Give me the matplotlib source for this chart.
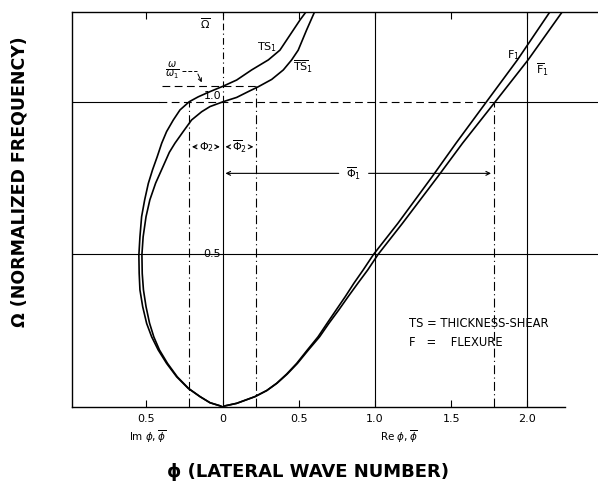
import matplotlib
matplotlib.use("Agg")
import matplotlib.pyplot as plt

plt.rcParams['mathtext.fontset'] = 'dejavusans'
plt.rcParams['font.family'] = ['DejaVu Sans']

# ---- data ----
# TS1 / F1 branch (negative phi = imaginary wave number side)
ts_f_phi = [0.548, 0.508, 0.464, 0.420, 0.376, 0.300, 0.190, 0.092, 0.004, -0.083,
            -0.160, -0.219, -0.280, -0.324, -0.368, -0.400, -0.430, -0.460, -0.488, -0.512,
            -0.532, -0.543, -0.550, -0.548, -0.543, -0.525, -0.499, -0.466, -0.423, -0.368,
            -0.302, -0.226, -0.149, -0.083, -0.018, 0.0,
            0.018, 0.092, 0.212, 0.289, 0.355, 0.420, 0.486, 0.556, 0.626, 0.685,
            0.745, 0.805, 0.862, 0.922, 0.990, 1.150, 1.375, 1.532, 1.725, 1.935, 2.149]
ts_f_omega = [1.296, 1.269, 1.236, 1.203, 1.170, 1.138, 1.105, 1.072, 1.052, 1.034,
              1.017, 1.001, 0.974, 0.941, 0.903, 0.865, 0.820, 0.778, 0.733, 0.679,
              0.624, 0.558, 0.498, 0.438, 0.384, 0.329, 0.274, 0.230, 0.187, 0.143,
              0.099, 0.061, 0.034, 0.014, 0.004, 0.0,
              0.004, 0.012, 0.034, 0.054, 0.078, 0.108, 0.143, 0.187, 0.230, 0.274,
              0.318, 0.362, 0.406, 0.449, 0.500, 0.602, 0.755, 0.865, 0.996, 1.138, 1.296]
# TS1-bar / F1-bar branch
tsb_fb_phi = [0.604, 0.551, 0.496, 0.453, 0.398, 0.322, 0.234, 0.168, 0.092, 0.004,
              -0.083, -0.138, -0.204, -0.259, -0.313, -0.350, -0.390, -0.440, -0.478, -0.503,
              -0.522, -0.530, -0.528, -0.520, -0.503, -0.480, -0.452, -0.415, -0.362, -0.298,
              -0.224, -0.148, -0.083, -0.018, 0.0,
              0.018, 0.092, 0.212, 0.290, 0.357, 0.424, 0.491, 0.563, 0.636, 0.697,
              0.762, 0.824, 0.888, 0.952, 1.020, 1.180, 1.412, 1.575, 1.782, 2.005, 2.230]
tsb_fb_omega = [1.296, 1.236, 1.170, 1.138, 1.105, 1.074, 1.050, 1.034, 1.015, 1.001,
                0.985, 0.968, 0.941, 0.903, 0.865, 0.835, 0.790, 0.734, 0.679, 0.624,
                0.558, 0.500, 0.438, 0.384, 0.329, 0.275, 0.230, 0.187, 0.143, 0.099,
                0.061, 0.034, 0.014, 0.004, 0.0,
                0.004, 0.012, 0.034, 0.054, 0.078, 0.108, 0.143, 0.187, 0.230, 0.274,
                0.318, 0.362, 0.406, 0.449, 0.500, 0.602, 0.755, 0.865, 0.996, 1.138, 1.296]

xtick_pos = [-0.5, 0.0, 0.5, 1.0, 1.5, 2.0]
xtick_labels = ["0.5", "0", "0.5", "1.0", "1.5", "2.0"]

phi2 = -0.22          # Phi_2 (imaginary)
phi2_bar = 0.22       # Phi_2 bar
phi1_bar = 1.78       # Phi_1 bar
omega_ratio = 1.052   # omega/omega_1 level
omega_phi2 = 0.853    # level of the Phi_2 dimension line
omega_phi1 = 0.766    # level of the Phi_1 dimension line

# ---- figure ----
fig = plt.figure(figsize=(5.98, 4.88), dpi=100)
ax = fig.add_axes([72/598, 81/488, (598-72)/598, (407-11.7)/488])
ax.set_xlim(-0.989, 2.464)
ax.set_ylim(0, 1.296)

for s in ['left', 'top', 'bottom']:
    ax.spines[s].set_linewidth(1.0)
ax.spines['right'].set_visible(False)
ax.spines['bottom'].set_bounds(-0.989, 2.25)

ax.set_xticks(xtick_pos)
ax.set_xticklabels(xtick_labels)
ax.tick_params(axis='x', direction='in', length=5, width=0.8, pad=5,
               labelsize=8, top=True)
ax.set_yticks([])

lw_grid = 0.8
ax.axhline(0.5, color='black', lw=lw_grid)
ax.plot([-0.989, -0.42], [1.0, 1.0], color='black', lw=lw_grid)
ax.plot([-0.42, 1.80], [1.0, 1.0], color='black', lw=lw_grid, dashes=(7, 4))
ax.plot([1.80, 2.464], [1.0, 1.0], color='black', lw=lw_grid)
ax.axvline(1.0, color='black', lw=lw_grid)
ax.axvline(2.0, color='black', lw=lw_grid)
ax.plot([0, 0], [0, 1.0], color='black', lw=lw_grid)
ax.plot([0, 0], [1.0, 1.296], color='black', lw=lw_grid, dashes=(6, 3, 1, 3))

# dash-dot construction lines
ax.plot([phi2, phi2], [0, 1.0], color='black', lw=lw_grid, dashes=(8, 3, 1, 3))
ax.plot([phi2_bar, phi2_bar], [0, omega_ratio], color='black', lw=lw_grid, dashes=(8, 3, 1, 3))
ax.plot([phi1_bar, phi1_bar], [0, 1.0], color='black', lw=lw_grid, dashes=(8, 3, 1, 3))
ax.plot([-0.40, phi2_bar + 0.02], [omega_ratio, omega_ratio], color='black',
        lw=lw_grid, dashes=(7, 4))

# curves
ax.plot(ts_f_phi, ts_f_omega, color='black', lw=1.2, solid_joinstyle='round')
ax.plot(tsb_fb_phi, tsb_fb_omega, color='black', lw=1.2, solid_joinstyle='round')

# dimension arrows
ap = dict(arrowstyle='->', lw=0.8, color='black', mutation_scale=7)
ax.annotate('', xy=(phi2, omega_phi2), xytext=(-0.155, omega_phi2), arrowprops=ap)
ax.annotate('', xy=(0, omega_phi2), xytext=(-0.06, omega_phi2), arrowprops=ap)
ax.annotate('', xy=(0, omega_phi2), xytext=(0.06, omega_phi2), arrowprops=ap)
ax.annotate('', xy=(phi2_bar, omega_phi2), xytext=(0.165, omega_phi2), arrowprops=ap)
ax.text(-0.108, omega_phi2, r'$\Phi_2$', ha='center', va='center', fontsize=8)
ax.text(0.112, omega_phi2, r'$\overline{\Phi}_2$', ha='center', va='center', fontsize=8)

ax.annotate('', xy=(0, omega_phi1), xytext=(0.78, omega_phi1), arrowprops=ap)
ax.annotate('', xy=(phi1_bar, omega_phi1), xytext=(0.94, omega_phi1), arrowprops=ap)
ax.text(0.86, omega_phi1, r'$\overline{\Phi}_1$', ha='center', va='center', fontsize=8)

# omega/omega1 pointer
ax.text(-0.33, 1.10, r'$\frac{\omega}{\omega_1}$', ha='center', va='center', fontsize=10)
ax.plot([-0.27, -0.17], [1.10, 1.10], color='black', lw=0.7, dashes=(4, 2))
ax.annotate('', xy=(-0.13, 1.056), xytext=(-0.17, 1.10),
            arrowprops=dict(arrowstyle='->', lw=0.7, color='black', mutation_scale=6))

# labels inside
ax.text(-0.115, 1.255, r'$\overline{\Omega}$', ha='center', va='center', fontsize=8)
ax.text(-0.01, 1.003, '1.0', ha='right', va='bottom', fontsize=8)
ax.text(-0.01, 0.5, '0.5', ha='right', va='center', fontsize=8)
ax.text(0.29, 1.18, r'$\mathrm{TS_1}$', ha='center', va='center', fontsize=8)
ax.text(0.53, 1.115, r'$\overline{\mathrm{TS}}_1$', ha='center', va='center', fontsize=8)
ax.text(1.91, 1.154, r'$\mathrm{F_1}$', ha='center', va='center', fontsize=8)
ax.text(2.10, 1.105, r'$\overline{\mathrm{F}}_1$', ha='center', va='center', fontsize=8)

ax.text(1.225, 0.275, 'TS = THICKNESS-SHEAR', ha='left', va='center', fontsize=8.3)
ax.text(1.225, 0.213, 'F   =    FLEXURE', ha='left', va='center', fontsize=8.3)

ax.text(-0.49, -0.098, r'Im $\phi,\overline{\phi}$', ha='center', va='center', fontsize=7.5,
        clip_on=False)
ax.text(1.16, -0.098, r'Re $\phi,\overline{\phi}$', ha='center', va='center', fontsize=7.5,
        clip_on=False)

fig.text(308/598, 1 - 472/488, 'ϕ (LATERAL WAVE NUMBER)', ha='center', va='center',
         fontsize=13, fontweight='bold', family=['DejaVu Sans'])
fig.text(20/598, 1 - 182/488, 'Ω (NORMALIZED FREQUENCY)', ha='center', va='center',
         rotation=90, fontsize=12.5, fontweight='bold', family=['DejaVu Sans'])

fig.savefig('out.png', dpi=100)
